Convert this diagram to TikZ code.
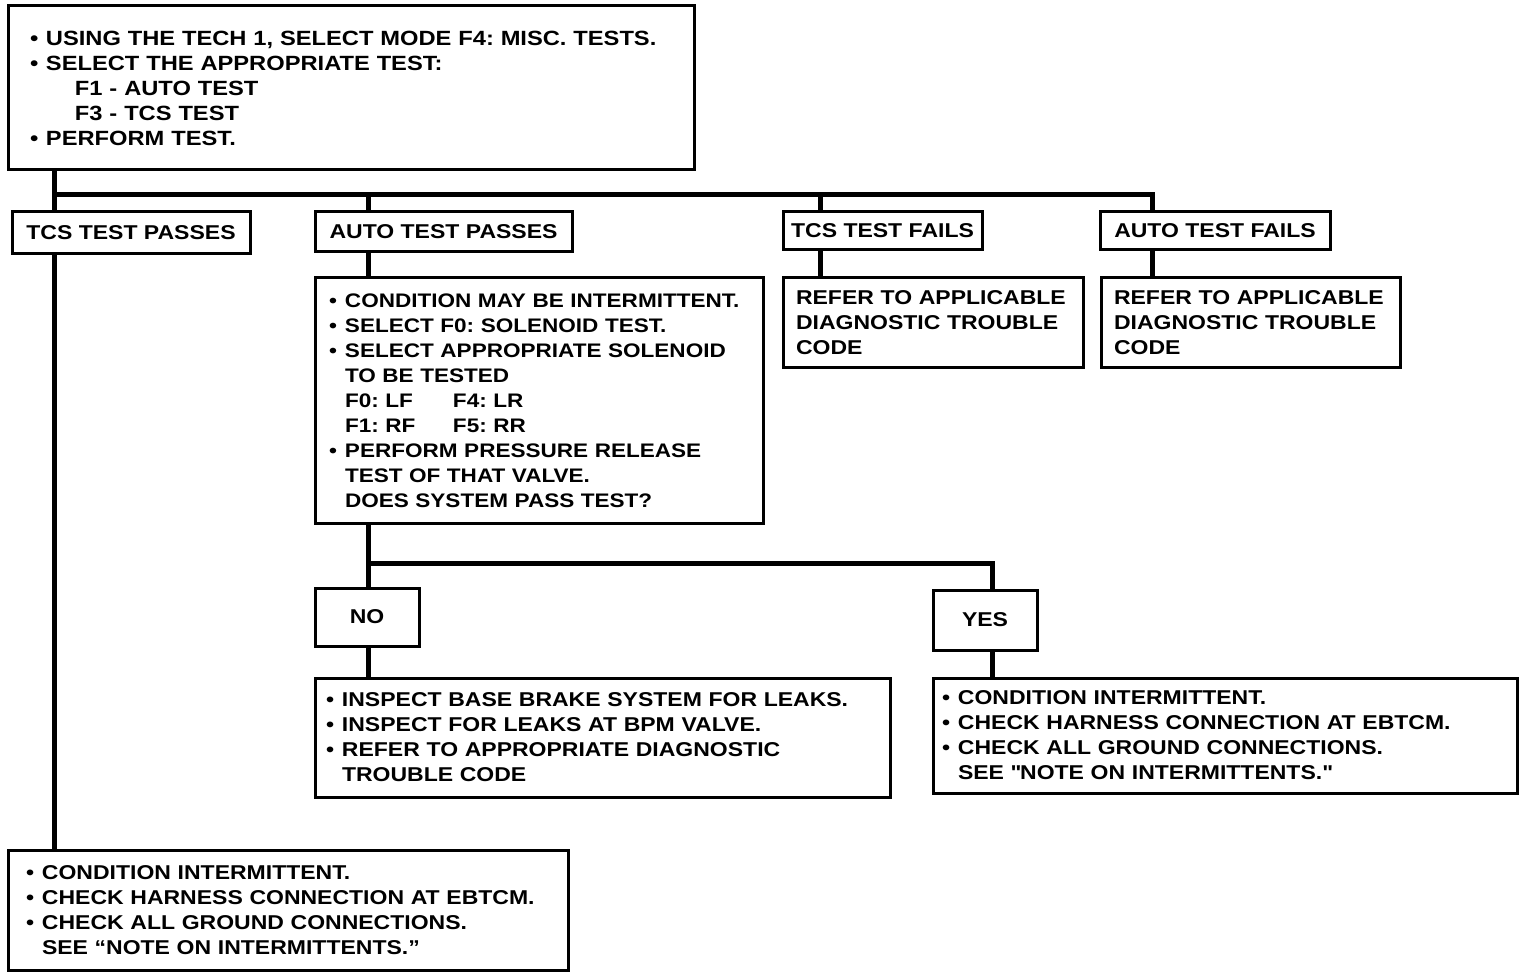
\documentclass[tikz,border=0pt]{standalone}
\usepackage{fontspec}
\setmainfont{Liberation Sans}[FakeStretch=1.15]
\usetikzlibrary{calc}
\frenchspacing

\newcommand{\bul}{\makebox[8pt][l]{\textbullet}}
\newcommand{\ind}{\hspace*{8pt}}
\newcommand{\boxfont}{\bfseries\fontsize{10}{12.5}\selectfont}

\tikzset{
  box/.style={draw, line width=1.5pt, anchor=north west, align=left,
    inner ysep=0pt, outer sep=0pt, font=\boxfont},
  tag/.style={draw, line width=1.5pt, anchor=north west, inner sep=0pt,
    outer sep=0pt, font=\boxfont},
  conn/.style={line width=2.5pt},
}

\begin{document}
\begin{tikzpicture}[x=0.5pt, y=-0.5pt]
  \useasboundingbox (0,0) rectangle (1536,978);

  \node[box, inner xsep=11pt, text width=321pt, minimum height=82pt,
    font=\bfseries\fontsize{10.3}{12.5}\selectfont] (top) at (8,6)
    {\bul USING THE TECH 1, SELECT MODE F4: MISC. TESTS.\\
     \bul SELECT THE APPROPRIATE TEST:\\
     \hspace*{22.5pt}F1 - AUTO TEST\\
     \hspace*{22.5pt}F3 - TCS TEST\\
     \bul PERFORM TEST.};

  \node[tag, minimum width=119pt, minimum height=21pt] (tcspass) at (12,212) {TCS TEST PASSES};
  \node[tag, minimum width=128.5pt, minimum height=20pt] (autopass) at (315,212) {AUTO TEST PASSES};
  \node[tag, minimum width=99.5pt, minimum height=19pt] (tcsfail) at (783,212) {TCS TEST FAILS};
  \node[tag, minimum width=115pt, minimum height=19pt] (autofail) at (1100,212) {AUTO TEST FAILS};

  \node[box, inner xsep=7pt, text width=210pt, minimum height=122.5pt,
    font=\bfseries\fontsize{9.8}{12.5}\selectfont] (cond) at (315,278)
    {\bul CONDITION MAY BE INTERMITTENT.\\
     \bul SELECT F0: SOLENOID TEST.\\
     \bul SELECT APPROPRIATE SOLENOID\\
     \ind TO BE TESTED\\
     \ind \makebox[54pt][l]{F0: LF}F4: LR\\
     \ind \makebox[54pt][l]{F1: RF}F5: RR\\
     \bul PERFORM PRESSURE RELEASE\\
     \ind TEST OF THAT VALVE.\\
     \ind DOES SYSTEM PASS TEST?};

  \node[box, inner xsep=6.5pt, text width=137pt, minimum height=45pt] (refer1) at (783,278)
    {REFER TO APPLICABLE\\ DIAGNOSTIC TROUBLE\\ CODE};
  \node[box, inner xsep=6.5pt, text width=136.5pt, minimum height=45pt] (refer2) at (1101,278)
    {REFER TO APPLICABLE\\ DIAGNOSTIC TROUBLE\\ CODE};

  \node[tag, minimum width=52pt, minimum height=29pt] (no) at (315,588) {NO};
  \node[tag, minimum width=52pt, minimum height=30pt] (yes) at (933,590) {YES};

  \node[box, inner xsep=5.5pt, text width=276.5pt, minimum height=59.5pt] (nobox) at (315,678)
    {\bul INSPECT BASE BRAKE SYSTEM FOR LEAKS.\\
     \bul INSPECT FOR LEAKS AT BPM VALVE.\\
     \bul REFER TO APPROPRIATE DIAGNOSTIC\\
     \ind TROUBLE CODE};

  \node[box, inner xsep=4.5pt, text width=283pt, minimum height=57.5pt] (yesbox) at (933,678)
    {\bul CONDITION INTERMITTENT.\\
     \bul CHECK HARNESS CONNECTION AT EBTCM.\\
     \bul CHECK ALL GROUND CONNECTIONS.\\
     \ind SEE \textquotedbl NOTE ON INTERMITTENTS.\textquotedbl};

  \node[box, inner xsep=9pt, text width=262pt, minimum height=60pt] (botleft) at (8,850)
    {\bul CONDITION INTERMITTENT.\\
     \bul CHECK HARNESS CONNECTION AT EBTCM.\\
     \bul CHECK ALL GROUND CONNECTIONS.\\
     \ind SEE “NOTE ON INTERMITTENTS.”};

  \coordinate (b1) at (54,195);
  \coordinate (b2) at (368,195);
  \coordinate (b3) at (820,195);
  \coordinate (b4) at (1152,195);
  \draw[conn] (top.south -| b1) -- (tcspass.north -| b1);
  \draw[conn] (b1) -- (b4) -- (b4 |- autofail.north);
  \draw[conn] (b2) -- (b2 |- autopass.north);
  \draw[conn] (b3) -- (b3 |- tcsfail.north);
  \draw[conn] (tcspass.south -| b1) -- (botleft.north -| b1);
  \draw[conn] (autopass.south -| b2) -- (cond.north -| b2);
  \draw[conn] (tcsfail.south -| b3) -- (refer1.north -| b3);
  \draw[conn] (autofail.south -| b4) -- (refer2.north -| b4);

  \coordinate (s1) at (368,563);
  \coordinate (s2) at (992,563);
  \draw[conn] (cond.south -| s1) -- (no.north -| s1);
  \draw[conn] (s1) -- (s2) -- (yes.north -| s2);
  \draw[conn] (no.south -| s1) -- (nobox.north -| s1);
  \draw[conn] (yes.south -| s2) -- (yesbox.north -| s2);
\end{tikzpicture}
\end{document}
